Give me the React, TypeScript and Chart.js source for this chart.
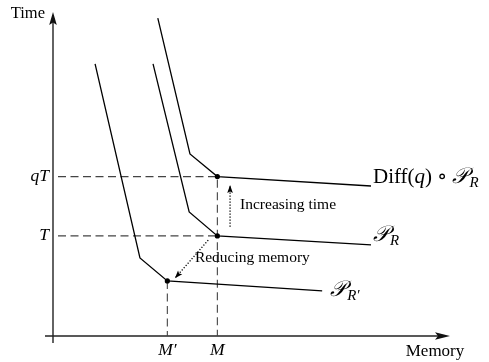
import React, { useEffect, useRef } from "react";
import { Chart, registerables } from "chart.js";
Chart.register(...registerables);

// Key values (abstract units on 0..100 axes)
const M = 41.4;
const Mp = 28.8;
const T = 30.9;
const qT = 49.2;

// Curves
const diffX = [26.4, 34.5, 41.4, 80.1];
const diffY = [98.1, 56.2, 49.2, 46.3];
const prX = [25.2, 34.3, 41.4, 80.1];
const prY = [84.0, 38.3, 30.9, 28.1];
const prpX = [10.6, 21.9, 28.8, 67.8];
const prpY = [84.0, 24.1, 17.0, 13.9];

// Ticks
const yTickValues = [qT, T];
const yTickLabels = ["qT", "T"];
const xTickValues = [Mp, M];
const xTickLabels = ["M′", "M"];

// Dotted arrows
const incArrowX = [44.6, 44.6];
const incArrowY = [33.7, 46.6];
const redArrowX = [39.1, 30.7];
const redArrowY = [29.6, 17.8];

const guideStart = 1.26;

const SERIF = "'Liberation Serif', 'DejaVu Serif', serif";
const CAL = "'DejaVu Serif', 'DejaVu Sans', serif";

const pts = (xs: number[], ys: number[]) => xs.map((x, i) => ({ x, y: ys[i] }));

type Seg = { t: string; font: string; dy?: number; dx?: number };
function drawSegs(ctx: CanvasRenderingContext2D, segs: Seg[], x: number, y: number) {
  let cx = x;
  ctx.textAlign = "left";
  ctx.textBaseline = "alphabetic";
  for (const s of segs) {
    ctx.font = s.font;
    cx += s.dx || 0;
    ctx.fillText(s.t, cx, y + (s.dy || 0));
    cx += ctx.measureText(s.t).width;
  }
}

function arrowHead(ctx: CanvasRenderingContext2D, x0: number, y0: number, x1: number, y1: number, len: number, half: number) {
  const a = Math.atan2(y1 - y0, x1 - x0);
  ctx.beginPath();
  ctx.moveTo(x1, y1);
  ctx.lineTo(x1 - len * Math.cos(a) + half * Math.sin(a), y1 - len * Math.sin(a) - half * Math.cos(a));
  ctx.lineTo(x1 - len * Math.cos(a) * 0.8, y1 - len * Math.sin(a) * 0.8);
  ctx.lineTo(x1 - len * Math.cos(a) - half * Math.sin(a), y1 - len * Math.sin(a) + half * Math.cos(a));
  ctx.closePath();
  ctx.fill();
}

const annot = {
  id: "annot",
  beforeDatasetsDraw(chart: any) {
    const { ctx, scales } = chart;
    const xs = scales.x, ys = scales.y;
    const x0 = xs.getPixelForValue(0);
    const y0 = ys.getPixelForValue(0);
    const xEnd = xs.getPixelForValue(100);
    const yEnd = ys.getPixelForValue(100);
    ctx.save();
    ctx.strokeStyle = "#222";
    ctx.fillStyle = "#111";
    ctx.lineWidth = 1.4;
    // y axis
    ctx.beginPath();
    ctx.moveTo(x0, y0 + 7);
    ctx.lineTo(x0, yEnd + 8);
    ctx.stroke();
    arrowHead(ctx, x0, y0, x0, yEnd, 13, 3.8);
    // x axis
    ctx.beginPath();
    ctx.moveTo(x0 - 8, y0);
    ctx.lineTo(xEnd - 8, y0);
    ctx.stroke();
    arrowHead(ctx, x0, y0, xEnd, y0, 15, 3.8);
    // tick labels
    ctx.fillStyle = "#000";
    ctx.font = `italic 17.5px ${SERIF}`;
    ctx.textAlign = "right";
    ctx.textBaseline = "middle";
    yTickValues.forEach((v, i) => ctx.fillText(yTickLabels[i], x0 - 4, ys.getPixelForValue(v)));
    ctx.textAlign = "center";
    ctx.textBaseline = "alphabetic";
    xTickValues.forEach((v, i) => ctx.fillText(xTickLabels[i], xs.getPixelForValue(v), y0 + 19));
    // axis titles
    ctx.font = `16.5px ${SERIF}`;
    ctx.textAlign = "right";
    ctx.fillText("Time", x0 - 8, yEnd + 6);
    ctx.font = `17px ${SERIF}`;
    ctx.textAlign = "center";
    ctx.fillText("Memory", xEnd - 15, y0 + 20);
    ctx.restore();
  },
  afterDatasetsDraw(chart: any) {
    const { ctx, scales } = chart;
    const xs = scales.x, ys = scales.y;
    ctx.save();
    ctx.fillStyle = "#000";
    chart.data.datasets.forEach((ds: any, i: number) => {
      if (!ds.isArrow) return;
      const meta = chart.getDatasetMeta(i);
      const a = meta.data[0], b = meta.data[1];
      arrowHead(ctx, a.x, a.y, b.x, b.y, 8, 2.8);
    });
    // curve labels
    const lastPx = (xsArr: number[], ysArr: number[]) => ({
      x: xs.getPixelForValue(xsArr[xsArr.length - 1]),
      y: ys.getPixelForValue(ysArr[ysArr.length - 1]),
    });
    const big = `21px ${SERIF}`;
    const bigI = `italic 21px ${SERIF}`;
    const cal = `italic 22px ${CAL}`;
    const sub = `italic 15px ${SERIF}`;
    const d = lastPx(diffX, diffY);
    drawSegs(ctx, [
      { t: "Diff(", font: big },
      { t: "q", font: bigI },
      { t: ")", font: big },
      { t: "∘", font: big, dx: 5 },
      { t: "𝒫", font: cal, dx: 5 },
      { t: "R", font: sub, dy: 4, dx: 1 },
    ], d.x + 2, d.y - 3);
    const p = lastPx(prX, prY);
    drawSegs(ctx, [
      { t: "𝒫", font: cal },
      { t: "R", font: sub, dy: 4, dx: 1 },
    ], p.x + 2, p.y - 4);
    const q = lastPx(prpX, prpY);
    drawSegs(ctx, [
      { t: "𝒫", font: cal },
      { t: "R′", font: sub, dy: 4, dx: 1 },
    ], q.x + 8, q.y + 5);
    // arrow captions
    ctx.font = `15.5px ${SERIF}`;
    ctx.textAlign = "left";
    ctx.textBaseline = "middle";
    ctx.fillText("Increasing time", xs.getPixelForValue(incArrowX[0]) + 10, ys.getPixelForValue((incArrowY[0] + incArrowY[1]) / 2) - 1);
    ctx.fillText("Reducing memory", xs.getPixelForValue(redArrowX[1]) + 20, ys.getPixelForValue((redArrowY[0] + redArrowY[1]) / 2) - 1);
    ctx.restore();
  },
};

export default function App() {
  const ref = useRef<HTMLCanvasElement>(null);
  useEffect(() => {
    if (!ref.current) return;
    const curve = (xs: number[], ys: number[]) => ({
      data: pts(xs, ys),
      showLine: true,
      borderColor: "#000",
      borderWidth: 1.3,
      pointRadius: [0, 0, 2.6, 0],
      pointBackgroundColor: "#000",
      pointBorderWidth: 0,
      order: 0,
    });
    const guide = (data: { x: number; y: number }[]) => ({
      data,
      showLine: true,
      borderColor: "#444",
      borderWidth: 1.1,
      borderDash: [8, 4.5],
      pointRadius: 0,
      order: 2,
    });
    const arrow = (xs: number[], ys: number[]) => ({
      data: pts(xs, ys),
      showLine: true,
      isArrow: true,
      borderColor: "#000",
      borderWidth: 1.3,
      borderDash: [1.2, 1.8],
      pointRadius: 0,
      order: 1,
    });
    const chart = new Chart(ref.current, {
      type: "scatter",
      data: {
        datasets: [
          guide([{ x: guideStart, y: qT }, { x: M, y: qT }, { x: M, y: 0 }]),
          guide([{ x: guideStart, y: T }, { x: M, y: T }]),
          guide([{ x: Mp, y: prpY[2] }, { x: Mp, y: 0 }]),
          arrow(incArrowX, incArrowY),
          arrow(redArrowX, redArrowY),
          curve(diffX, diffY),
          curve(prX, prY),
          curve(prpX, prpY),
        ] as any,
      },
      options: {
        responsive: false,
        animation: false,
        layout: { padding: { left: 53, top: 12, right: 39, bottom: 26 } },
        scales: {
          x: { type: "linear", min: 0, max: 100, display: false },
          y: { type: "linear", min: 0, max: 100, display: false },
        },
        plugins: { legend: { display: false }, tooltip: { enabled: false } },
        events: [],
      },
      plugins: [annot],
    });
    return () => chart.destroy();
  }, []);
  return (
    <div style={{ position: "fixed", left: 0, top: 0, width: 489, height: 362, background: "#fff" }}>
      <canvas ref={ref} width={489} height={362} />
    </div>
  );
}
